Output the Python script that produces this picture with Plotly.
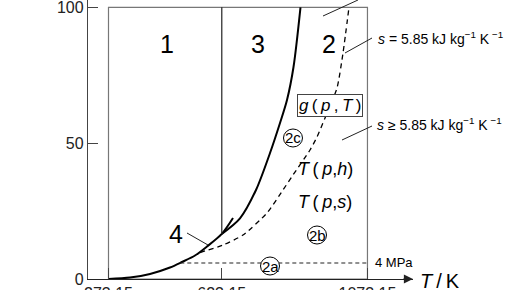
import plotly.graph_objects as go

# ---- data (T in K, p in MPa) ----
sat_T = [273.15, 339.6, 401.4, 463.1, 500.2, 540.4, 577.4, 623.15, 657.8]
sat_p = [0.0, 0.55, 1.84, 4.23, 6.26, 8.65, 11.96, 16.6, 22.45]

b23_T = [623.15, 679.4, 728.8, 772.1, 803.0, 824.6, 844.7, 866.3]
b23_p = [16.6, 22.34, 32.76, 46.37, 57.42, 65.88, 78.03, 100.0]

bc_T = [555.8, 626.9, 688.7, 762.8, 812.2, 843.1, 895.6, 917.3, 942.0, 979.1, 997.6, 1016.1]
bc_p = [9.75, 12.51, 16.19, 24.29, 32.76, 38.28, 47.48, 52.26, 59.26, 70.30, 83.18, 100.0]

iso_T = [495.0, 1073.15]
iso_p = [5.89, 5.89]

x_ticks = [273.15, 623.15, 1073.15]
x_ticktext = ["273.15", "623.15", "1073.15"]
y_ticks = [0, 50, 100]

T_min, T_b13, T_max = 273.15, 623.15, 1073.15
p_max = 100.0

FONT = "Liberation Sans, Arial, sans-serif"

fig = go.Figure()
fig.add_trace(go.Scatter(x=sat_T, y=sat_p, mode="lines", line=dict(color="black", width=2, shape="spline", smoothing=0.8), hoverinfo="skip"))
fig.add_trace(go.Scatter(x=b23_T, y=b23_p, mode="lines", line=dict(color="black", width=2, shape="spline", smoothing=0.8), hoverinfo="skip"))
fig.add_trace(go.Scatter(x=bc_T, y=bc_p, mode="lines", line=dict(color="black", width=1.3, dash="5px,4px", shape="spline", smoothing=0.6), hoverinfo="skip"))
fig.add_trace(go.Scatter(x=iso_T, y=iso_p, mode="lines", line=dict(color="#222", width=1.2, dash="4px,3px"), hoverinfo="skip"))

shapes = []
# frame of the regions
shapes.append(dict(type="rect", xref="x", yref="y", x0=T_min, x1=T_max, y0=0, y1=p_max,
                   line=dict(color="#777", width=1.2), layer="below"))
# region 1/3 boundary
shapes.append(dict(type="line", xref="x", yref="y", x0=T_b13, x1=T_b13, y0=16.6, y1=p_max,
                   line=dict(color="#222", width=1.2)))
# leader lines
for (x0, y0, x1, y1) in [(515.7, 16.93, 580.5, 12.51),
                         (1087.2, 88.7, 1003.8, 83.18),
                         (1087.2, 56.31, 994.5, 51.16),
                         (935.8, 96.8, 1043.9, 102.69)]:
    shapes.append(dict(type="line", xref="x", yref="y", x0=x0, y0=y0, x1=x1, y1=y1,
                       line=dict(color="#222", width=1)))
# circled sub-region labels
circ = [("2a", 772.1, 4.78), ("2b", 917.3, 16.19), ("2c", 843.1, 51.9)]
for _, cx, cy in circ:
    shapes.append(dict(type="circle", xref="x", yref="y", xsizemode="pixel", ysizemode="pixel",
                       xanchor=cx, yanchor=cy, x0=-9.5, x1=9.5, y0=-9, y1=9,
                       line=dict(color="black", width=1), fillcolor="white"))

ann = []
def txt(t, x, y, size, xanchor="center", xref="x", yref="y", **kw):
    ann.append(dict(text=t, x=x, y=y, xref=xref, yref=yref, showarrow=False, xanchor=xanchor,
                    yanchor="middle", font=dict(family=FONT, size=size, color="black"), **kw))

txt("1", 453.9, 86.5, 25)
txt("3", 735.0, 86.5, 25)
txt("2", 954.3, 86.5, 25)
txt("4", 483.2, 16.56, 25)
txt("<i>g</i>\u2009(\u2009<i>p</i>\u2009,\u2009<i>T</i>\u2009)", 957.4, 64.04, 17,
    bordercolor="#444", borderwidth=1, borderpad=1, bgcolor="white")
txt("<i>T</i>\u2009(\u2009<i>p</i>,<i>h</i>)", 942.0, 40.49, 18)
txt("<i>T</i>\u2009(\u2009<i>p</i>,<i>s</i>)", 942.0, 28.16, 18)
for lab, cx, cy in circ:
    txt(lab, cx, cy, 15)
txt("<i>s</i> = 5.85 kJ kg<sup>\u22121</sup> K<sup> \u22121</sup>", 1099.5, 88.7, 14, xanchor="left")
txt("<i>s</i> \u2265 5.85 kJ kg<sup>\u22121</sup> K<sup> \u22121</sup>", 1096.4, 57.05, 14, xanchor="left")
txt("4 MPa", 1090.3, 6.07, 13, xanchor="left")
# axis title at the arrow tip (paper coordinates, outside the plot area)
txt("<i>T</i>\u2009/\u2009K", 1.0831, -0.0054, 20, xref="paper", yref="paper")
# arrow head of the T axis
ann.append(dict(text="", x=1213.8, y=0, ax=1180, ay=0, xref="x", yref="y", axref="x", ayref="y",
                showarrow=True, arrowhead=2, arrowsize=1.4, arrowwidth=1.3, arrowcolor="#222"))

fig.update_layout(
    width=516, height=290,
    margin=dict(l=88, r=103, t=0, b=11, pad=0),
    paper_bgcolor="white", plot_bgcolor="white",
    showlegend=False, template="none",
    shapes=shapes, annotations=ann,
    font=dict(family=FONT, color="#222"),
)
fig.update_xaxes(range=[209.82, 1213.84], showline=True, linecolor="#222", linewidth=1.3,
                 ticks="inside", ticklen=11, tickcolor="#444", tickwidth=1,
                 tickvals=x_ticks, ticktext=x_ticktext, tickfont=dict(size=16, color="#222"),
                 showgrid=False, zeroline=False, automargin=False)
fig.update_yaxes(range=[0, 102.69], showline=True, linecolor="#444", linewidth=1.3,
                 ticks="inside", ticklen=10, tickcolor="#444", tickwidth=1,
                 tickvals=y_ticks, tickfont=dict(size=16, color="#222"),
                 ticklabeloverflow="allow",
                 showgrid=False, zeroline=False, automargin=False)

fig.write_html("out.html")
